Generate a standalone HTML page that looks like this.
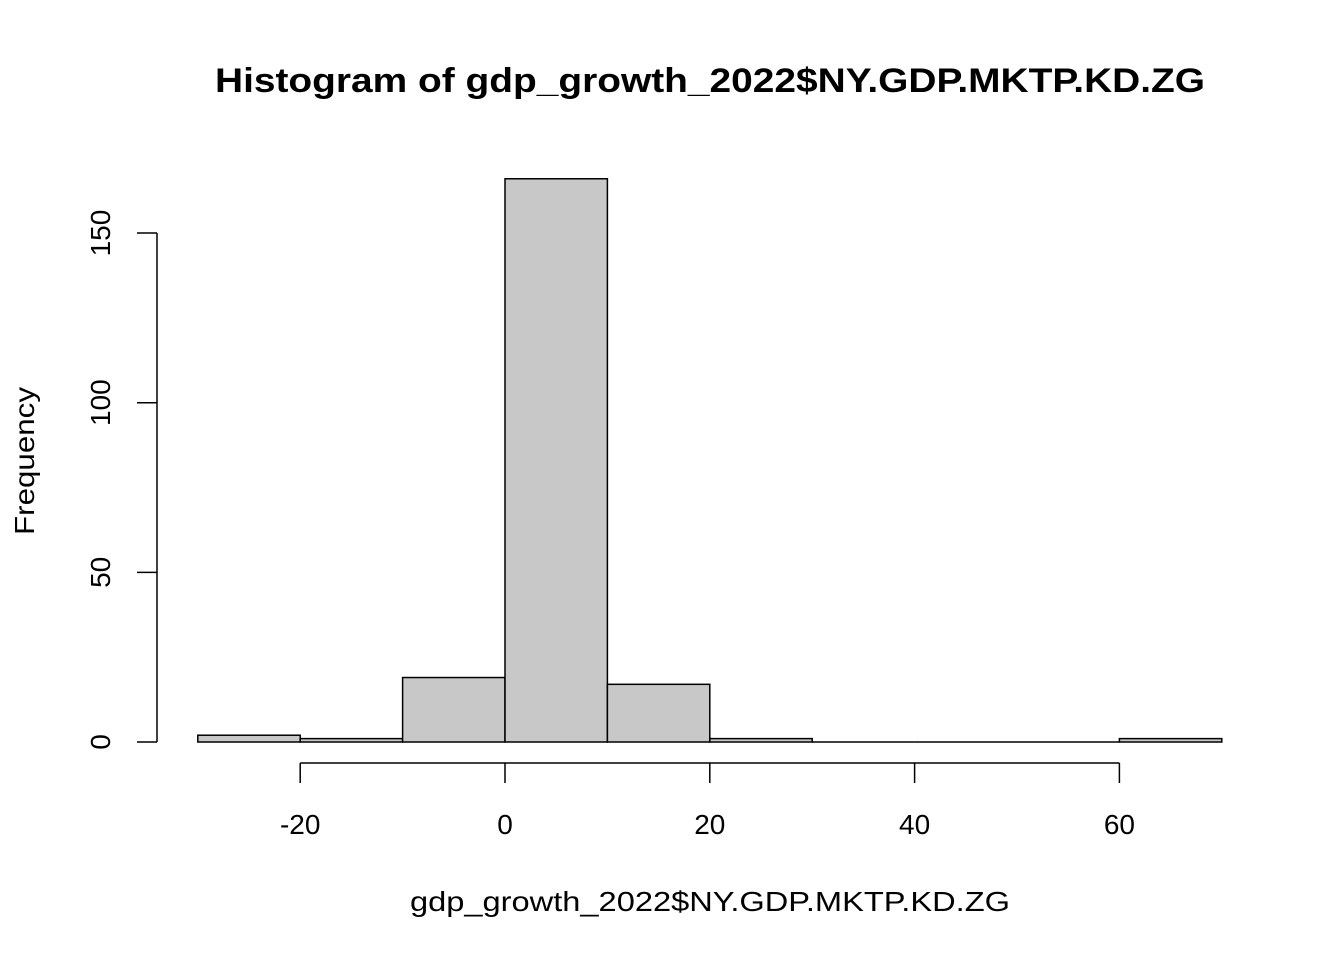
<!DOCTYPE html>
<html><head><meta charset="utf-8"><style>
html,body{margin:0;padding:0;background:#fff}
svg{display:block;font-family:"Liberation Sans",Arial,sans-serif}
</style></head><body>
<svg id="chart" width="1344" height="960">
<text x="710" y="92" text-anchor="middle" font-size="34" font-weight="bold" textLength="990" lengthAdjust="spacingAndGlyphs">Histogram of gdp_growth_2022$NY.GDP.MKTP.KD.ZG</text>
<text x="710" y="911" text-anchor="middle" font-size="28" textLength="600" lengthAdjust="spacingAndGlyphs">gdp_growth_2022$NY.GDP.MKTP.KD.ZG</text>
<text transform="translate(34,461) rotate(-90)" text-anchor="middle" font-size="28" textLength="148" lengthAdjust="spacingAndGlyphs">Frequency</text>
<g id="bars"></g><g id="xaxis"></g><g id="yaxis"></g>
</svg>
<script>
const binEdges=[-30,-20,-10,0,10,20,30,40,50,60,70];
const counts=[2,1,19,166,17,1,0,0,0,1];
const xTicks=[-20,0,20,40,60];
const yTicks=[0,50,100,150];
const NS="http://www.w3.org/2000/svg";
const xs=v=>505+(v)*10.24;
const ys=v=>742-v*3.393;
function mk(tag,attrs,parent){const e=document.createElementNS(NS,tag);for(const k in attrs)e.setAttribute(k,attrs[k]);parent.appendChild(e);return e;}
const gb=document.getElementById('bars');
counts.forEach((c,i)=>{
  const x0=xs(binEdges[i]),x1=xs(binEdges[i+1]);
  let r;
  if(c===0){
    r=mk('line',{x1:x0,x2:x1,y1:ys(0),y2:ys(0),stroke:'#000','stroke-width':1.5},gb);
  } else {
    r=mk('rect',{x:x0,y:ys(c),width:x1-x0,height:ys(0)-ys(c),fill:'#c8c8c8',stroke:'#000','stroke-width':1.5},gb);
  }
  
  
});
const gx=document.getElementById('xaxis');
const xl=mk('line',{x1:xs(xTicks[0]),x2:xs(xTicks[xTicks.length-1]),y1:763,y2:763,stroke:'#000','stroke-width':1.5},gx);


xTicks.forEach(t=>{
  mk('line',{x1:xs(t),x2:xs(t),y1:763,y2:783,stroke:'#000','stroke-width':1.5},gx);
  const tx=mk('text',{x:xs(t),y:834,'text-anchor':'middle','font-size':28},gx);
  tx.textContent=t;
  
  
});
const gy=document.getElementById('yaxis');
const yl=mk('line',{x1:157,x2:157,y1:ys(yTicks[0]),y2:ys(yTicks[yTicks.length-1]),stroke:'#000','stroke-width':1.5},gy);


yTicks.forEach(t=>{
  mk('line',{x1:137,x2:157,y1:ys(t),y2:ys(t),stroke:'#000','stroke-width':1.5},gy);
  const tx=mk('text',{transform:`translate(110,${ys(t)}) rotate(-90)`,'text-anchor':'middle','font-size':28},gy);
  tx.textContent=t;
  
  
});
</script>
</body></html>
